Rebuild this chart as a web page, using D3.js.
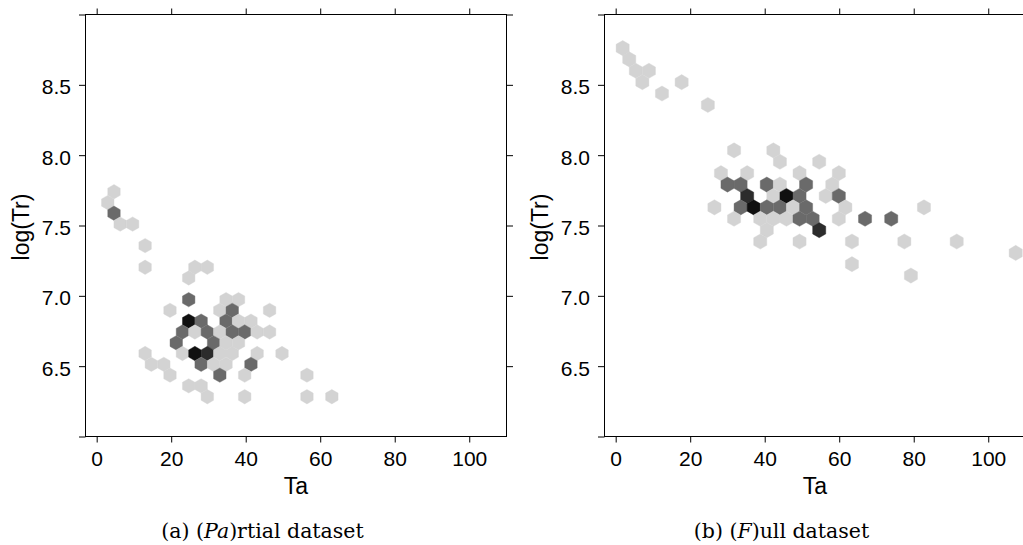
<!DOCTYPE html>
<html>
<head>
<meta charset="utf-8">
<script src="https://cdn.jsdelivr.net/npm/d3@7"></script>
<style>
  body { margin: 0; background: #fff; }
  svg { display: block; }
</style>
</head>
<body>
<div id="chart"></div>
<script>
// Hexbin cells: bin centre (Ta, log Tr) and count level

// (a) partial dataset
const partialTa = [
  4.65, 2.97, 4.65, 6.31, 9.65, 13.00, 13.00, 26.36, 29.70, 24.70,
  24.70, 34.72, 38.07,
  19.68, 33.05, 36.39, 46.41,
  24.70, 28.04, 34.72, 38.07, 41.41,
  23.02, 26.36, 29.70, 33.05, 36.39, 39.73, 43.07, 46.41,
  21.36, 31.38, 34.72, 38.07,
  13.00, 23.02, 26.36, 29.70, 33.05, 36.39, 43.07, 49.75,
  14.67, 18.02, 28.04, 31.38, 34.72, 41.41,
  19.68, 33.05, 39.73, 56.44,
  24.70, 28.04,
  29.70, 39.73, 56.44, 63.12
];
const partialLogTr = [
  7.740, 7.663, 7.587, 7.510, 7.510, 7.357, 7.203, 7.203, 7.203, 7.127,
  6.973, 6.973, 6.973,
  6.897, 6.897, 6.897, 6.897,
  6.820, 6.820, 6.820, 6.820, 6.820,
  6.743, 6.743, 6.743, 6.743, 6.743, 6.743, 6.743, 6.743,
  6.666, 6.666, 6.666, 6.666,
  6.590, 6.590, 6.590, 6.590, 6.590, 6.590, 6.590, 6.590,
  6.513, 6.513, 6.513, 6.513, 6.513, 6.513,
  6.436, 6.436, 6.436, 6.436,
  6.360, 6.360,
  6.283, 6.283, 6.283, 6.283
];
const partialCount = [
  1, 1, 2, 1, 1, 1, 1, 1, 1, 1,
  2, 1, 1,
  1, 1, 2, 1,
  4, 2, 2, 1, 1,
  2, 1, 2, 1, 2, 2, 1, 1,
  2, 2, 1, 1,
  1, 1, 4, 3, 1, 1, 1, 1,
  1, 1, 2, 1, 1, 2,
  1, 2, 1, 1,
  1, 1,
  1, 1, 1, 1
];

// (b) full dataset
const fullTa = [
  1.88, 3.64, 5.40, 8.92, 7.16, 17.71, 12.43, 24.74,
  31.77, 42.32,
  44.08, 54.63,
  28.26, 35.29, 49.35, 59.90,
  30.01, 33.53, 40.56, 44.08, 51.11, 58.14,
  35.29, 42.32, 45.84, 49.35, 56.38, 59.90,
  26.50, 33.53, 37.04, 40.56, 44.08, 47.59, 51.11, 61.66, 82.75,
  31.77, 38.80, 42.32, 45.84, 49.35, 52.87, 59.90, 66.93, 73.96,
  40.56, 54.63,
  38.80, 49.35, 63.42, 77.48, 91.54,
  107.37,
  63.42,
  79.24
];
const fullLogTr = [
  8.761, 8.681, 8.600, 8.600, 8.519, 8.519, 8.438, 8.357,
  8.034, 8.034,
  7.953, 7.953,
  7.872, 7.872, 7.872, 7.872,
  7.791, 7.791, 7.791, 7.791, 7.791, 7.791,
  7.710, 7.710, 7.710, 7.710, 7.710, 7.710,
  7.629, 7.629, 7.629, 7.629, 7.629, 7.629, 7.629, 7.629, 7.629,
  7.548, 7.548, 7.548, 7.548, 7.548, 7.548, 7.548, 7.548, 7.548,
  7.467, 7.467,
  7.386, 7.386, 7.386, 7.386, 7.386,
  7.305,
  7.225,
  7.144
];
const fullCount = [
  1, 1, 1, 1, 1, 1, 1, 1,
  1, 1,
  1, 1,
  1, 1, 1, 1,
  2, 2, 2, 1, 2, 1,
  3, 1, 4, 2, 1, 2,
  1, 2, 4, 2, 2, 1, 2, 1, 1,
  1, 1, 1, 1, 2, 2, 1, 2, 2,
  1, 3,
  1, 1, 1, 1, 1,
  1,
  1,
  1
];

const xTicks = [0, 20, 40, 60, 80, 100];
const yTicks = [6.0, 6.5, 7.0, 7.5, 8.0, 8.5, 9.0];
const yTickLabels = ["", "6.5", "7.0", "7.5", "8.0", "8.5", ""];
const countLevels = [1, 2, 3, 4];
const countColors = ["#d3d3d3", "#6a6a6a", "#2c2c2c", "#101010"];
const xDomain = [-3, 110];
const yDomain = [6, 9];

const width = 1023;
const height = 545;

const svg = d3.select("#chart")
  .append("svg")
  .attr("width", width)
  .attr("height", height);

const color = d3.scaleOrdinal().domain(countLevels).range(countColors);

const panels = [
  {
    left: 85.5, top: 14.5, w: 421, h: 422, binWidth: 3.3417,
    cells: d3.zip(partialTa, partialLogTr, partialCount),
    caption: ["(a) (", "Pa", ")rtial dataset"], captionX: 262.5
  },
  {
    left: 604.5, top: 14.5, w: 421, h: 422, binWidth: 3.5161,
    cells: d3.zip(fullTa, fullLogTr, fullCount),
    caption: ["(b) (", "F", ")ull dataset"], captionX: 781.5
  }
];

const tickFont = "'Liberation Sans', Arial, sans-serif";

panels.forEach(p => {
  const x = d3.scaleLinear().domain(xDomain).range([p.left, p.left + p.w]);
  const y = d3.scaleLinear().domain(yDomain).range([p.top + p.h, p.top]);

  // hexagons (pointy top)
  const hw = x(p.binWidth) - x(0);
  const r = hw / Math.sqrt(3);
  const hex = "M" + [
    [0, -r], [hw / 2, -r / 2], [hw / 2, r / 2],
    [0, r], [-hw / 2, r / 2], [-hw / 2, -r / 2]
  ].map(d => d.join(",")).join("L") + "Z";

  svg.append("g")
    .selectAll("path")
    .data(p.cells)
    .join("path")
    .attr("d", hex)
    .attr("transform", d => `translate(${x(d[0])},${y(d[1])})`)
    .attr("fill", d => color(d[2]))
    .attr("stroke", d => color(d[2]))
    .attr("stroke-width", 0.4);

  // frame
  svg.append("rect")
    .attr("x", p.left)
    .attr("y", p.top)
    .attr("width", p.w)
    .attr("height", p.h)
    .attr("fill", "none")
    .attr("stroke", "#000")
    .attr("stroke-width", 1);

  // axes
  const bottom = svg.append("g")
    .attr("transform", `translate(0,${p.top + p.h})`)
    .call(d3.axisBottom(x).tickValues(xTicks).tickSize(6).tickPadding(8.5).tickSizeOuter(0));
  const top = svg.append("g")
    .attr("transform", `translate(0,${p.top})`)
    .call(d3.axisTop(x).tickValues(xTicks).tickSize(6).tickFormat("").tickSizeOuter(0));
  const left = svg.append("g")
    .attr("transform", `translate(${p.left},0)`)
    .call(d3.axisLeft(y).tickValues(yTicks).tickSize(6.5).tickPadding(8)
      .tickFormat((d, i) => yTickLabels[i]).tickSizeOuter(0));
  const right = svg.append("g")
    .attr("transform", `translate(${p.left + p.w},0)`)
    .call(d3.axisRight(y).tickValues(yTicks.slice(1)).tickSize(6.5).tickFormat("").tickSizeOuter(0));

  [bottom, top, left, right].forEach(a => {
    a.select(".domain").remove();
    a.selectAll("text")
      .attr("font-family", tickFont)
      .attr("font-size", 21)
      .attr("fill", "#000");
  });
  left.selectAll("text").attr("dy", "0.43em");

  // axis titles
  svg.append("text")
    .attr("x", p.left + p.w / 2)
    .attr("y", 493.5)
    .attr("text-anchor", "middle")
    .attr("font-family", tickFont)
    .attr("font-size", 23)
    .text("Ta");

  svg.append("text")
    .attr("transform", `translate(${p.left - 56.5},${p.top + p.h / 2 + 1.5}) rotate(-90)`)
    .attr("text-anchor", "middle")
    .attr("font-family", tickFont)
    .attr("font-size", 23)
    .text("log(Tr)");

  // caption
  const cap = svg.append("text")
    .attr("x", p.captionX)
    .attr("y", 537.5)
    .attr("text-anchor", "middle")
    .attr("font-family", "'DejaVu Serif', serif")
    .attr("font-size", 20.5);
  cap.append("tspan").text(p.caption[0]);
  cap.append("tspan").attr("font-style", "italic").text(p.caption[1]);
  cap.append("tspan").text(p.caption[2]);
});
</script>
</body>
</html>
